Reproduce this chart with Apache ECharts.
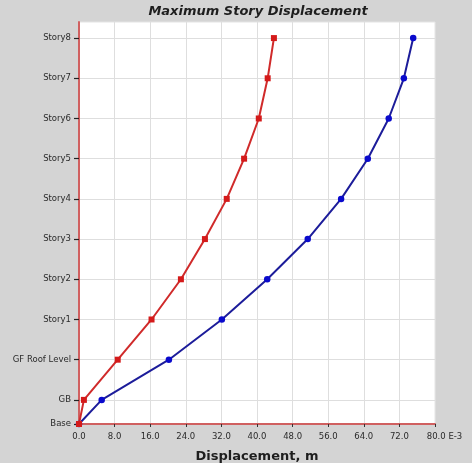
<!DOCTYPE html>
<html><head><meta charset="utf-8">
<script src="https://cdn.jsdelivr.net/npm/echarts@6/dist/echarts.min.js"></script>
<style>html,body{margin:0;padding:0;background:#d4d4d4;}#c{width:472px;height:463px;}</style>
</head><body><div id="c"></div>
<script>
var levels = ['Base','GB','GF Roof Level','Story1','Story2','Story3','Story4','Story5','Story6','Story7','Story8'];
var elevations = [0,3,8,13,18,23,28,33,38,43,48];
var redDisp = [0,1.1,8.7,16.3,22.9,28.3,33.2,37.1,40.4,42.4,43.8];
var blueDisp = [0,5.1,20.2,32.1,42.3,51.4,58.9,64.9,69.6,73.0,75.1];
var xTicks = [0,8,16,24,32,40,48,56,64,72,80];

function pts(d){return d.map(function(v,i){return [v, elevations[i]];});}
var chart = echarts.init(document.getElementById('c'));
chart.setOption({
  backgroundColor:'#d4d4d4',
  animation:false,
  title:{text:'Maximum Story Displacement',left:253,textAlign:'center',top:0,
    textStyle:{fontFamily:'DejaVu Sans',fontSize:13,fontWeight:'bold',fontStyle:'italic',color:'#1e1e1e'}},
  grid:{left:79,right:37,top:22,bottom:39,outerBoundsMode:'none',containLabel:false,show:true,backgroundColor:'#fff',borderColor:'#e4e4e4',borderWidth:1},
  xAxis:{type:'value',min:0,max:80,interval:8,
    name:'Displacement, m',nameLocation:'middle',nameGap:26,
    nameTextStyle:{fontFamily:'DejaVu Sans',fontSize:13,fontWeight:'bold',color:'#1e1e1e'},
    axisLine:{onZero:false,lineStyle:{color:'#d06060',width:2}},
    axisTick:{show:true,inside:false,length:3,lineStyle:{color:'#333'}},
    splitLine:{lineStyle:{color:'#dedede',width:1}},
    axisLabel:{fontFamily:'DejaVu Sans',fontSize:8.5,color:'#2a2a2a',margin:8,
      formatter:function(v){return v===80?'{p|}80.0 E-3':v.toFixed(1);},
      rich:{p:{width:19}}}
  },
  yAxis:{type:'value',min:0,max:50,
    axisLine:{onZero:false,lineStyle:{color:'#d06060',width:2}},
    axisTick:{show:true,inside:false,interval:0,length:5,customValues:elevations,lineStyle:{color:'#222',width:1.2}},
    splitLine:{lineStyle:{color:'#dedede',width:1}},
    axisLabel:{customValues:elevations,fontFamily:'DejaVu Sans',fontSize:8.5,color:'#2a2a2a',margin:8,
      formatter:function(v){var i=elevations.indexOf(v);return i>=0?levels[i]:'';}}
  },
  series:[
    {type:'line',data:pts(blueDisp),symbol:'circle',symbolSize:6.5,
      lineStyle:{color:'#1c1c9a',width:2},itemStyle:{color:'#0a0acc'}},
    {type:'line',data:pts(redDisp),symbol:'rect',symbolSize:6,
      lineStyle:{color:'#d02a2a',width:2},itemStyle:{color:'#d41a1a'}}
  ]
});
</script></body></html>
